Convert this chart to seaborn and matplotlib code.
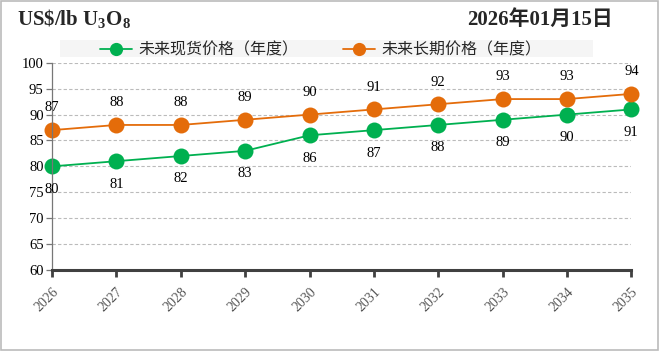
import numpy as np
import pandas as pd
import matplotlib
matplotlib.use("Agg")
import matplotlib.pyplot as plt
import seaborn as sns
from matplotlib.patches import Rectangle

# ==============================
# DATA
# ==============================
years = ["2026", "2027", "2028", "2029", "2030", "2031", "2032", "2033", "2034", "2035"]
spot_price = [80, 81, 82, 83, 86, 87, 88, 89, 90, 91]
long_term_price = [87, 88, 88, 89, 90, 91, 92, 93, 93, 94]
spot_name = "未来现货价格（年度）"
long_name = "未来长期价格（年度）"
y_ticks = [60, 65, 70, 75, 80, 85, 90, 95, 100]

green = "#00b050"
orange = "#e46c0a"

df = pd.DataFrame({
    "year": years * 2,
    "idx": list(range(len(years))) * 2,
    "price": spot_price + long_term_price,
    "series": [spot_name] * len(years) + [long_name] * len(years),
})

# ==============================
# FIGURE
# ==============================
sns.set_theme(style="white")
plt.rcParams["font.family"] = ["Liberation Serif", "Noto Sans CJK SC", "DejaVu Sans"]
plt.rcParams["mathtext.fontset"] = "custom"
plt.rcParams["mathtext.rm"] = "Liberation Serif:bold"
plt.rcParams["mathtext.it"] = "Liberation Serif:bold"
plt.rcParams["mathtext.bf"] = "Liberation Serif:bold"

fig = plt.figure(figsize=(6.59, 3.51), dpi=100)
ax = fig.add_axes([0.079, 0.231, 0.879, 0.590])

sns.lineplot(data=df, x="idx", y="price", hue="series",
             palette={spot_name: green, long_name: orange},
             hue_order=[spot_name, long_name],
             marker="o", markersize=11.5, markeredgewidth=0, linewidth=1.3,
             ax=ax, legend=False, clip_on=False)

# value labels
for i, v in enumerate(long_term_price):
    ax.annotate(str(v), (i, v), xytext=(0, 16), textcoords="offset points",
                ha="center", va="center", fontsize=10.5, color="black",
                annotation_clip=False)
for i, v in enumerate(spot_price):
    ax.annotate(str(v), (i, v), xytext=(0, -16.5), textcoords="offset points",
                ha="center", va="center", fontsize=10.5, color="black",
                annotation_clip=False)

ax.set_xlim(0, len(years) - 1)
ax.set_ylim(60, 100)
ax.set_yticks(y_ticks)
ax.set_yticklabels([str(t) for t in y_ticks], fontsize=10.5, color="black")
ax.set_xticks(range(len(years)))
ax.set_xticklabels(years, rotation=45, ha="right", rotation_mode="anchor",
                   fontsize=10, color="#555555")
ax.set_xlabel("")
ax.set_ylabel("")

ax.grid(axis="y", linestyle=(0, (3, 2)), color="#bbbbbb", linewidth=0.8)
ax.grid(axis="x", visible=False)
for side in ["top", "right"]:
    ax.spines[side].set_visible(False)
ax.spines["left"].set_color("#777777")
ax.spines["left"].set_linewidth(0.9)
ax.spines["bottom"].set_color("#404040")
ax.spines["bottom"].set_linewidth(2.2)
ax.tick_params(axis="x", which="both", bottom=True, length=5, width=2, color="#404040", pad=6)
ax.tick_params(axis="y", which="both", left=True, length=4, width=0.9, color="#777777", pad=2)

# legend
fig.patches.append(Rectangle((60 / 659, 1 - 57 / 351), 533 / 659, 17 / 351,
                             transform=fig.transFigure, facecolor="#f5f5f5",
                             edgecolor="none", zorder=0))
leg_handles = [
    plt.Line2D([0], [0], color=green, marker="o", markersize=9.5, markeredgewidth=0, linewidth=1.3),
    plt.Line2D([0], [0], color=orange, marker="o", markersize=9.5, markeredgewidth=0, linewidth=1.3),
]
fig.legend(leg_handles, [spot_name, long_name], loc="center",
           bbox_to_anchor=(321 / 659, 1 - 50 / 351), ncol=2, frameon=False,
           handlelength=2.0, columnspacing=2.8, handletextpad=0.4,
           prop={"family": ["Noto Sans CJK SC", "DejaVu Sans"], "size": 11.5})

# titles
fig.text(17 / 659, 1 - 25 / 351, r"US\$/lb U$_{3}$O$_{8}$", ha="left", va="baseline",
         fontsize=15, fontweight="bold", family=["Liberation Serif"])
fig.text(613 / 659, 1 - 25 / 351, "2026年01月15日", ha="right", va="baseline",
         fontsize=15, fontweight="bold", family=["Liberation Serif", "Noto Sans CJK SC"])

# border
fig.patches.append(Rectangle((0.001, 0.002), 0.997, 0.995, transform=fig.transFigure,
                             facecolor="none", edgecolor="#bbbbbb", linewidth=1.2))

plt.savefig("out.png", dpi=100)
